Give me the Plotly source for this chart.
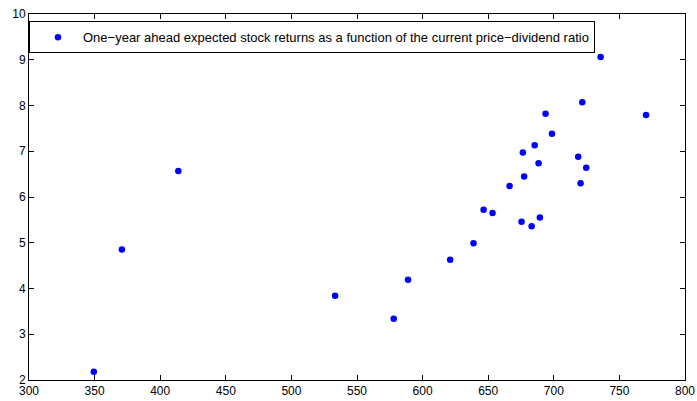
import plotly.graph_objects as go

pd_ratio = [349.4, 370.8, 413.8, 533.3, 578.0, 588.9, 621.0, 638.8, 646.5, 653.3,
            666.3, 675.4, 676.4, 677.4, 683.1, 685.4, 688.4, 689.4, 693.7, 698.6,
            718.6, 720.4, 721.7, 724.7, 735.7, 770.3]
exp_returns = [2.18, 4.85, 6.57, 3.84, 3.34, 4.19, 4.63, 4.99, 5.72, 5.65,
               6.24, 5.46, 6.97, 6.45, 5.36, 7.13, 6.74, 5.55, 7.82, 7.38,
               6.88, 6.30, 8.07, 6.64, 9.06, 7.79]
series_name = "One\u2212year ahead expected stock returns as a function of the current price\u2212dividend ratio"
x_ticks = [300, 350, 400, 450, 500, 550, 600, 650, 700, 750, 800]
y_ticks = [2, 3, 4, 5, 6, 7, 8, 9, 10]

fig = go.Figure()
fig.add_trace(go.Scatter(
    x=pd_ratio, y=exp_returns, mode="markers", name=series_name,
    marker=dict(color="#0000ff", size=6.5, line=dict(width=0)),
    showlegend=True,
))

axis_common = dict(
    showgrid=False, zeroline=False, showline=True, linecolor="black", linewidth=1,
    mirror="ticks", ticks="inside", ticklen=5, tickcolor="black", tickwidth=1,
    automargin=False,
    tickfont=dict(family="Liberation Sans, Arial, Helvetica", size=12, color="black"),
)
fig.update_xaxes(range=[300, 800], tickvals=x_ticks, **axis_common)
fig.update_yaxes(range=[2, 10], tickvals=y_ticks, **axis_common)

fig.update_layout(
    width=697, height=401,
    margin=dict(l=29, r=12, t=14, b=21),
    plot_bgcolor="white", paper_bgcolor="white",
    showlegend=True,
    legend=dict(
        x=0, y=0.98, xanchor="left", yanchor="top",
        bgcolor="white", bordercolor="black", borderwidth=1,
        font=dict(family="Liberation Sans, Arial, Helvetica", size=13, color="black"),
        itemwidth=40, indentation=3,
    ),
)

fig.write_html("out.html")
